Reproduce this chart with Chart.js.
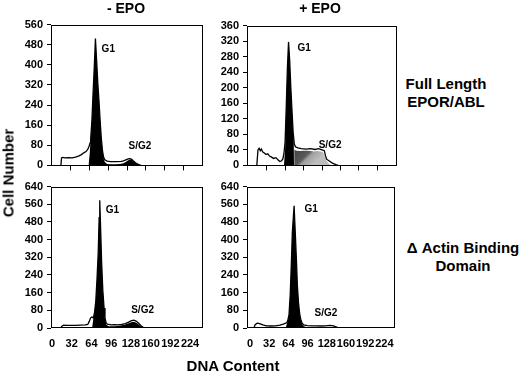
<!DOCTYPE html>
<html>
<head>
<meta charset="utf-8">
<script src="https://cdn.jsdelivr.net/npm/chart.js@4.4.1/dist/chart.umd.min.js"></script>
<style>
  body { margin: 0; background: #fff; width: 520px; height: 372px; position: relative; overflow: hidden;
         font-family: "Liberation Sans", Arial, sans-serif; font-weight: bold; color: #000; }
  canvas { position: absolute; }
  .txt { position: absolute; transform: translate(-50%, -50%); white-space: nowrap; text-align: center; }
</style>
</head>
<body>
<canvas id="p1" width="198" height="162" style="left:11px;top:14px"></canvas>
<canvas id="p2" width="196" height="161" style="left:207px;top:15px"></canvas>
<canvas id="p3" width="198" height="174" style="left:11px;top:176px"></canvas>
<canvas id="p4" width="196" height="174" style="left:207px;top:176px"></canvas>

<div class="txt" style="left:126px;top:8px;font-size:14px">- EPO</div>
<div class="txt" style="left:320px;top:8px;font-size:14px">+ EPO</div>
<div class="txt" style="left:446px;top:93px;font-size:15px;line-height:18px">Full Length<br>EPOR/ABL</div>
<div class="txt" style="left:463px;top:257px;font-size:15px;line-height:18px">Δ Actin Binding<br>Domain</div>
<div class="txt" style="left:8px;top:173px;font-size:15px;transform:translate(-50%,-50%) rotate(-90deg)">Cell Number</div>
<div class="txt" style="left:233px;top:365px;font-size:15px">DNA Content</div>

<script>
const xTicks = [0, 32, 64, 96, 128, 160, 192, 224];

// - EPO, full length EPOR/ABL
const p1OutX = [15, 16, 18, 22, 28, 34, 40, 46, 50, 54, 58, 61, 63, 65, 66, 68, 70, 72, 74, 76, 78, 80, 82, 84, 86, 88, 90, 94, 100, 106, 112, 118, 122, 126, 130, 133, 136, 140, 144, 148, 152];
const p1OutY = [0, 30, 32, 30, 31, 30, 33, 38, 43, 50, 55, 65, 75, 90, 110, 180, 290, 390, 505, 420, 330, 260, 180, 110, 60, 32, 22, 17, 15, 15, 15, 16, 18, 22, 26, 27, 24, 16, 8, 3, 0];
const p1FillX = [62, 64, 66, 68, 70, 72, 74, 76, 78, 80, 82, 84, 86, 88, 90, 94, 100, 108, 116, 122, 126, 130, 134, 138, 142, 146, 150, 153];
const p1FillY = [0, 40, 110, 180, 290, 390, 500, 420, 330, 260, 180, 110, 60, 28, 14, 6, 5, 5, 6, 9, 14, 20, 23, 19, 12, 6, 2, 0];
const p1Notes = [['G1', 96, 463], ['S/G2', 150, 78]];

// + EPO, full length EPOR/ABL
const p2OutX = [15, 17, 19, 21, 23, 25, 28, 31, 34, 37, 40, 44, 48, 52, 55, 58, 60, 62, 64, 66, 68, 70, 72, 74, 76, 78, 80, 82, 86, 92, 100, 108, 116, 122, 128, 132, 134, 136, 140, 146, 152, 156];
const p2OutY = [0, 40, 44, 38, 42, 35, 32, 28, 30, 24, 22, 18, 20, 14, 10, 12, 16, 30, 60, 150, 250, 318, 270, 200, 140, 85, 55, 48, 45, 43, 42, 43, 41, 43, 40, 38, 25, 16, 12, 6, 2, 0];
const p2FillX = [62, 64, 66, 68, 70, 72, 74, 76, 78, 79, 79.5];
const p2FillY = [0, 40, 150, 250, 318, 270, 200, 140, 85, 60, 0];
const p2GreyX = [79.5, 80, 84, 90, 96, 102, 108, 114, 120, 126, 130, 133, 136, 140, 143];
const p2GreyY = [0, 40, 38, 37, 38, 38, 37, 36, 37, 36, 33, 22, 12, 4, 0];
const p2Notes = [['G1', 97, 302], ['S/G2', 142, 53]];

// - EPO, delta actin binding domain
const p3OutX = [14, 16, 19, 25, 31, 38, 46, 54, 58, 60.5, 62.5, 64.5, 66, 67, 69, 71, 73, 75, 76.5, 77.5, 78.5, 80.5, 82.5, 84.5, 86, 88, 90, 96, 101.5, 107, 113, 119, 124.5, 129, 133, 137, 141, 144.5, 148, 151];
const p3OutY = [0, 8, 13, 12, 12, 12, 13, 14, 16, 30, 45, 50, 48, 45, 70, 120, 220, 340, 500, 578, 490, 300, 170, 90, 45, 22, 17, 14, 15, 14, 16, 20, 27, 33, 35, 30, 20, 10, 3, 0];
const p3FillX = [65, 67, 69, 71, 73, 75, 76.5, 77.5, 78.5, 80.5, 82.5, 84.5, 86, 88, 92, 99.5, 107, 113, 119, 124.5, 130, 134, 138, 141.5, 145.5, 149];
const p3FillY = [0, 40, 70, 120, 220, 340, 500, 576, 490, 300, 170, 90, 45, 15, 8, 8, 9, 12, 16, 22, 27, 27, 22, 14, 6, 0];
const p3Notes = [['G1', 98, 533], ['S/G2', 147, 80]];

// + EPO, delta actin binding domain
const p4OutX = [6.5, 8.5, 12, 16, 21.5, 27, 35, 42.5, 50, 55.5, 59.5, 61.5, 63, 65, 67, 69, 70.5, 73.5, 75.5, 77.5, 79, 81, 83, 85, 87, 89.5, 95.5, 103, 110.5, 118, 125.5, 133, 139, 143.5, 147.5];
const p4OutY = [0, 15, 22, 20, 14, 10, 9, 10, 13, 18, 22, 25, 35, 60, 150, 300, 430, 553, 430, 300, 190, 110, 60, 35, 22, 14, 11, 10, 10, 9, 10, 12, 10, 5, 0];
const p4FillX = [59.5, 61.5, 63, 65, 67, 69, 70.5, 73.5, 75.5, 77.5, 79, 81, 83, 85, 87, 89.5, 93.5, 103, 112.5, 122, 131, 139, 144.5];
const p4FillY = [0, 20, 32, 58, 150, 300, 430, 551, 430, 300, 190, 110, 60, 33, 18, 8, 4, 4, 4, 4, 5, 3, 0];
const p4Notes = [['G1', 102, 538], ['S/G2', 126.5, 67]];

const tickFont = { family: '"Liberation Sans", Arial, sans-serif', size: 11, weight: 'bold' };
const pts = (xs, ys) => xs.map((x, i) => ({ x, y: ys[i] }));

// box round the plot area
const frame = {
    id: 'frame',
    afterDraw(chart) {
        const { ctx, chartArea: a } = chart;
        ctx.save();
        ctx.strokeStyle = '#000';
        ctx.lineWidth = 1;
        ctx.strokeRect(Math.round(a.left) + 0.5, Math.round(a.top) + 0.5,
            Math.round(a.right - a.left) - 1, Math.round(a.bottom - a.top) - 1);
        ctx.restore();
    }
};

// G1 / S/G2 labels at data positions
const notes = {
    id: 'notes',
    afterDatasetsDraw(chart, args, opts) {
        const { ctx, scales } = chart;
        ctx.save();
        ctx.fillStyle = '#000';
        ctx.font = 'bold 10px "Liberation Sans", Arial, sans-serif';
        ctx.textAlign = 'center';
        ctx.textBaseline = 'middle';
        (opts.items || []).forEach(([t, x, y]) => {
            ctx.fillText(t, scales.x.getPixelForValue(x), scales.y.getPixelForValue(y));
        });
        ctx.restore();
    }
};

function greyFill(ctx) {
    const chart = ctx.chart;
    if (!chart.chartArea) return '#888';
    const xs = chart.scales.x, ys = chart.scales.y;
    const g = chart.ctx.createLinearGradient(xs.getPixelForValue(86), ys.getPixelForValue(40),
        xs.getPixelForValue(112), ys.getPixelForValue(0));
    g.addColorStop(0, '#474747');
    g.addColorStop(0.45, '#5a5a5a');
    g.addColorStop(0.6, '#a0a0a0');
    g.addColorStop(1, '#bdbdbd');
    return g;
}

function makePanel(id, xMin, xMax, yMax, yStep, bottom, outline, fills, noteItems) {
    const datasets = [{
        data: outline,
        borderColor: '#000',
        borderWidth: 1.3,
        fill: false
    }];
    fills.forEach(f => datasets.push({
        data: f.data,
        borderWidth: 0,
        borderColor: 'rgba(0,0,0,0)',
        backgroundColor: f.color,
        fill: 'origin'
    }));

    new Chart(document.getElementById(id), {
        type: 'line',
        data: { datasets },
        plugins: [frame, notes],
        options: {
            responsive: false,
            animation: false,
            layout: { padding: { top: 8, right: 6, left: 0, bottom: 0 } },
            elements: { point: { radius: 0 }, line: { tension: 0 } },
            plugins: {
                legend: { display: false },
                tooltip: { enabled: false },
                notes: { items: noteItems }
            },
            scales: {
                x: {
                    type: 'linear',
                    min: xMin,
                    max: xMax,
                    afterBuildTicks: s => { s.ticks = xTicks.map(v => ({ value: v })); },
                    afterFit: s => { s.height = bottom ? 22 : 10; },
                    border: { display: false },
                    grid: {
                        drawOnChartArea: false,
                        drawTicks: !bottom,
                        tickLength: 5,
                        color: c => (c.tick && c.tick.value === 0) ? 'rgba(0,0,0,0)' : '#000'
                    },
                    ticks: { display: bottom, autoSkip: false, maxRotation: 0, padding: 9, color: '#000', font: tickFont }
                },
                y: {
                    min: 0,
                    max: yMax,
                    afterFit: s => { s.width = 40; },
                    border: { display: false },
                    grid: { drawOnChartArea: false, tickLength: 4, color: '#000' },
                    ticks: { stepSize: yStep, autoSkip: false, padding: 4, color: '#000', font: tickFont }
                }
            }
        }
    });
}

makePanel('p1', -2, 258, 560, 80, false, pts(p1OutX, p1OutY),
    [{ data: pts(p1FillX, p1FillY), color: '#000' }], p1Notes);
makePanel('p2', -2, 258, 360, 40, false, pts(p2OutX, p2OutY),
    [{ data: pts(p2FillX, p2FillY), color: '#000' }, { data: pts(p2GreyX, p2GreyY), color: greyFill }], p2Notes);
makePanel('p3', -1.6, 245, 640, 80, true, pts(p3OutX, p3OutY),
    [{ data: pts(p3FillX, p3FillY), color: '#000' }], p3Notes);
makePanel('p4', -5, 241, 640, 80, true, pts(p4OutX, p4OutY),
    [{ data: pts(p4FillX, p4FillY), color: '#000' }], p4Notes);
</script>
</body>
</html>
